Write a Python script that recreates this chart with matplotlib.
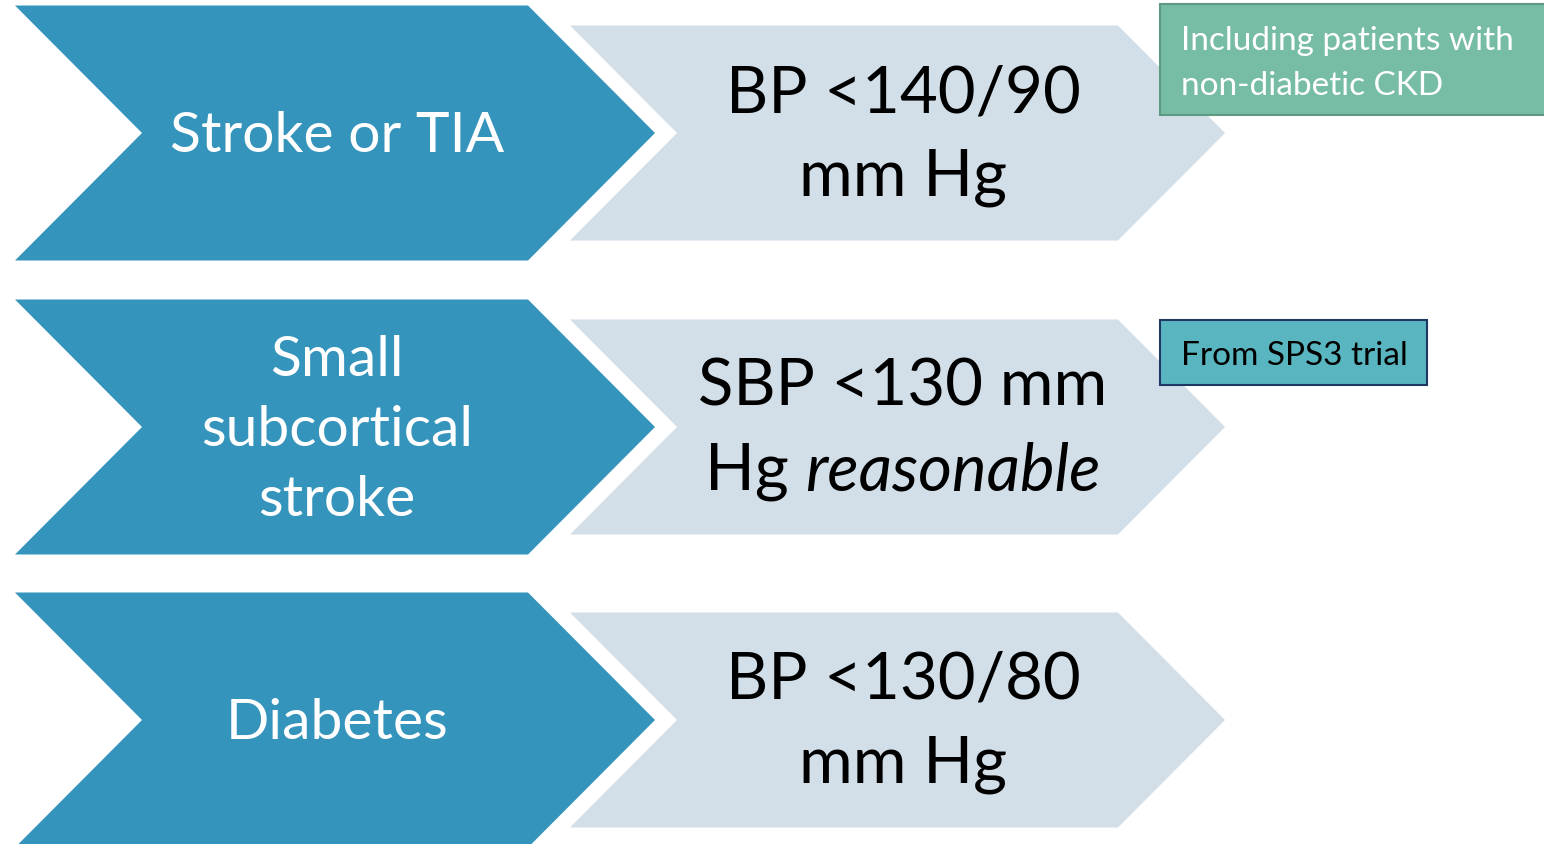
import matplotlib.pyplot as plt
from matplotlib.patches import Polygon, Rectangle
from matplotlib import font_manager

# row content
conditions = ["Stroke or TIA", "Small\nsubcortical\nstroke", "Diabetes"]
targets = [["BP <140/90", "mm Hg"],
           ["SBP <130 mm", ("Hg ", "reasonable")],
           ["BP <130/80", "mm Hg"]]
notes = ["Including patients with\nnon-diabetic CKD", "From SPS3 trial", None]

blue = "#3594bc"
pale = "#d2dfe8"
note_fill = ["#77bda5", "#59b6c0"]
note_edge = ["#5e9a82", "#1f3864"]
note_text = ["white", "black"]

fam = "Lato"
names = {f.name for f in font_manager.fontManager.ttflist}
if fam not in names:
    fam = "DejaVu Sans"

W, H = 1544, 845
fig = plt.figure(figsize=(W / 100, H / 100), dpi=100)
ax = fig.add_axes([0, 0, 1, 1])
ax.set_xlim(0, W)
ax.set_ylim(H, 0)
ax.axis("off")


def chevron(x0, x1, yc, half, depth, color):
    pts = [(x0, yc - half), (x1, yc - half), (x1 + depth, yc),
           (x1, yc + half), (x0, yc + half), (x0 + depth, yc)]
    ax.add_patch(Polygon(pts, closed=True, fc=color, ec="none"))


fig.canvas.draw()
r = fig.canvas.get_renderer()

row_y = [134, 428, 721]
for i, yc in enumerate(row_y):
    chevron(15, 528, yc, 127.5, 127, blue)
    chevron(570, 1118, yc, 107.5, 107, pale)

    lines = conditions[i].split("\n")
    step = 70
    y0 = yc - 2 - step * (len(lines) - 1) / 2
    for k, ln in enumerate(lines):
        ax.text(337, y0 + k * step, ln, ha="center", va="center_baseline",
                color="white", fontsize=41, family=fam)

    tl = targets[i]
    step = 84
    y0 = yc - 4 - step / 2
    for k, ln in enumerate(tl):
        yy = y0 + k * step
        if isinstance(ln, tuple):
            # mixed upright / italic line, centred as a whole
            t1 = ax.text(0, yy, ln[0].strip(), ha="left", va="center_baseline",
                         color="black", fontsize=47, family=fam)
            t2 = ax.text(0, yy, ln[1], ha="left", va="center_baseline",
                         color="black", fontsize=47, family=fam, style="italic")
            w1 = t1.get_window_extent(r).width
            w2 = t2.get_window_extent(r).width
            sp = 16
            left = 903 - (w1 + sp + w2) / 2
            t1.set_x(left)
            t2.set_x(left + w1 + sp)
        else:
            ax.text(903, yy, ln, ha="center", va="center_baseline",
                    color="black", fontsize=47, family=fam)

# side notes
boxes = [(1160, 5, 400, 111), (1160, 321, 267, 65)]
for i, (bx, by, bw, bh) in enumerate(boxes):
    ax.add_patch(Rectangle((bx, by), bw, bh, fc=note_fill[i],
                           ec=note_edge[i], lw=1.5))
    lines = notes[i].split("\n")
    step = 45
    y0 = by + bh / 2 - step * (len(lines) - 1) / 2
    for k, ln in enumerate(lines):
        ax.text(1181, y0 + k * step, ln, ha="left", va="center_baseline",
                color=note_text[i], fontsize=24, family=fam)

fig.savefig("out.png", dpi=100)
